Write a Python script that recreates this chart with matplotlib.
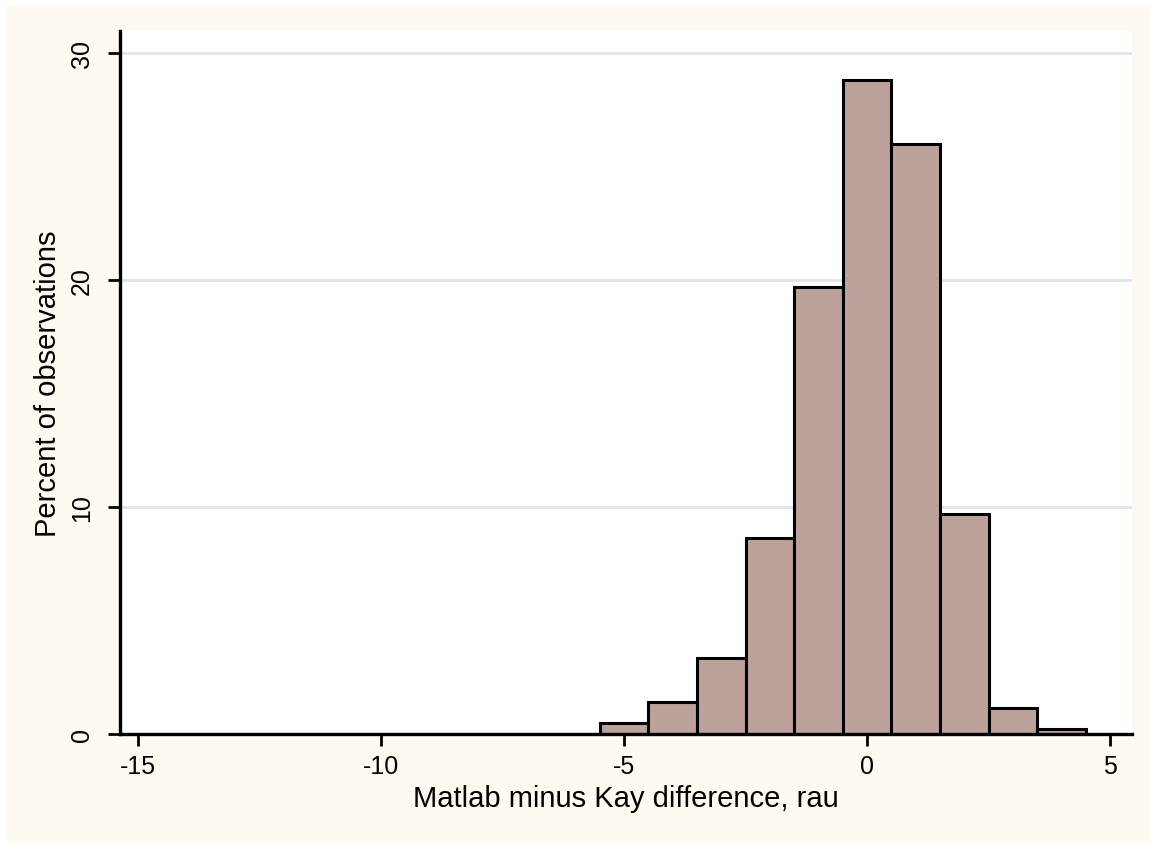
import numpy as np
import matplotlib.pyplot as plt
from matplotlib.patches import Rectangle

plt.rcParams['font.family'] = ['Liberation Sans', 'DejaVu Sans']
plt.rcParams['axes.unicode_minus'] = False

# histogram of differences, bins of width 1 centred on integers
bin_centers = [-5, -4, -3, -2, -1, 0, 1, 2, 3, 4]
percent = [0.48, 1.42, 3.35, 8.65, 19.7, 28.8, 26.0, 9.7, 1.15, 0.2]
x_ticks = [-15, -10, -5, 0, 5]
y_ticks = [0, 10, 20, 30]

bar_color = '#BDA29B'
bg_color = '#FFFAEF'

fig = plt.figure(figsize=(11.51, 8.45), dpi=100, facecolor='white')
# outer graph region
fig.patches.append(Rectangle((7 / 1151, 0), 1, (845 - 6) / 845,
                             transform=fig.transFigure, facecolor=bg_color,
                             edgecolor='none', zorder=-10))

ax = fig.add_axes([120 / 1151, 110 / 845, 1012 / 1151, 703 / 845])
ax.set_zorder(1)
ax.set_facecolor('white')
ax.bar(bin_centers, percent, width=1.0, color=bar_color,
       edgecolor='black', linewidth=2.2, zorder=3)

ax.set_xlim(-15.37, 5.45)
ax.set_ylim(0, 30.97)
ax.set_xticks(x_ticks)
ax.set_yticks(y_ticks)
ax.yaxis.grid(True, color='#E4E4E4', linewidth=2, zorder=0)
ax.set_axisbelow(True)

for side in ['top', 'right']:
    ax.spines[side].set_visible(False)
for side in ['left', 'bottom']:
    ax.spines[side].set_linewidth(2.4)
    ax.spines[side].set_zorder(5)

ax.tick_params(axis='both', direction='out', length=8.6, width=2,
               labelsize=18, color='black')
ax.tick_params(axis='x', pad=6)
ax.tick_params(axis='y', pad=10, labelrotation=90)
for lab in ax.get_yticklabels():
    lab.set_va('center')

ax.set_xlabel('Matlab minus Kay difference, rau', fontsize=21, labelpad=4)
ax.set_ylabel('Percent of observations', fontsize=21, labelpad=6)

fig.savefig('out.png', dpi=100, facecolor=fig.get_facecolor())
